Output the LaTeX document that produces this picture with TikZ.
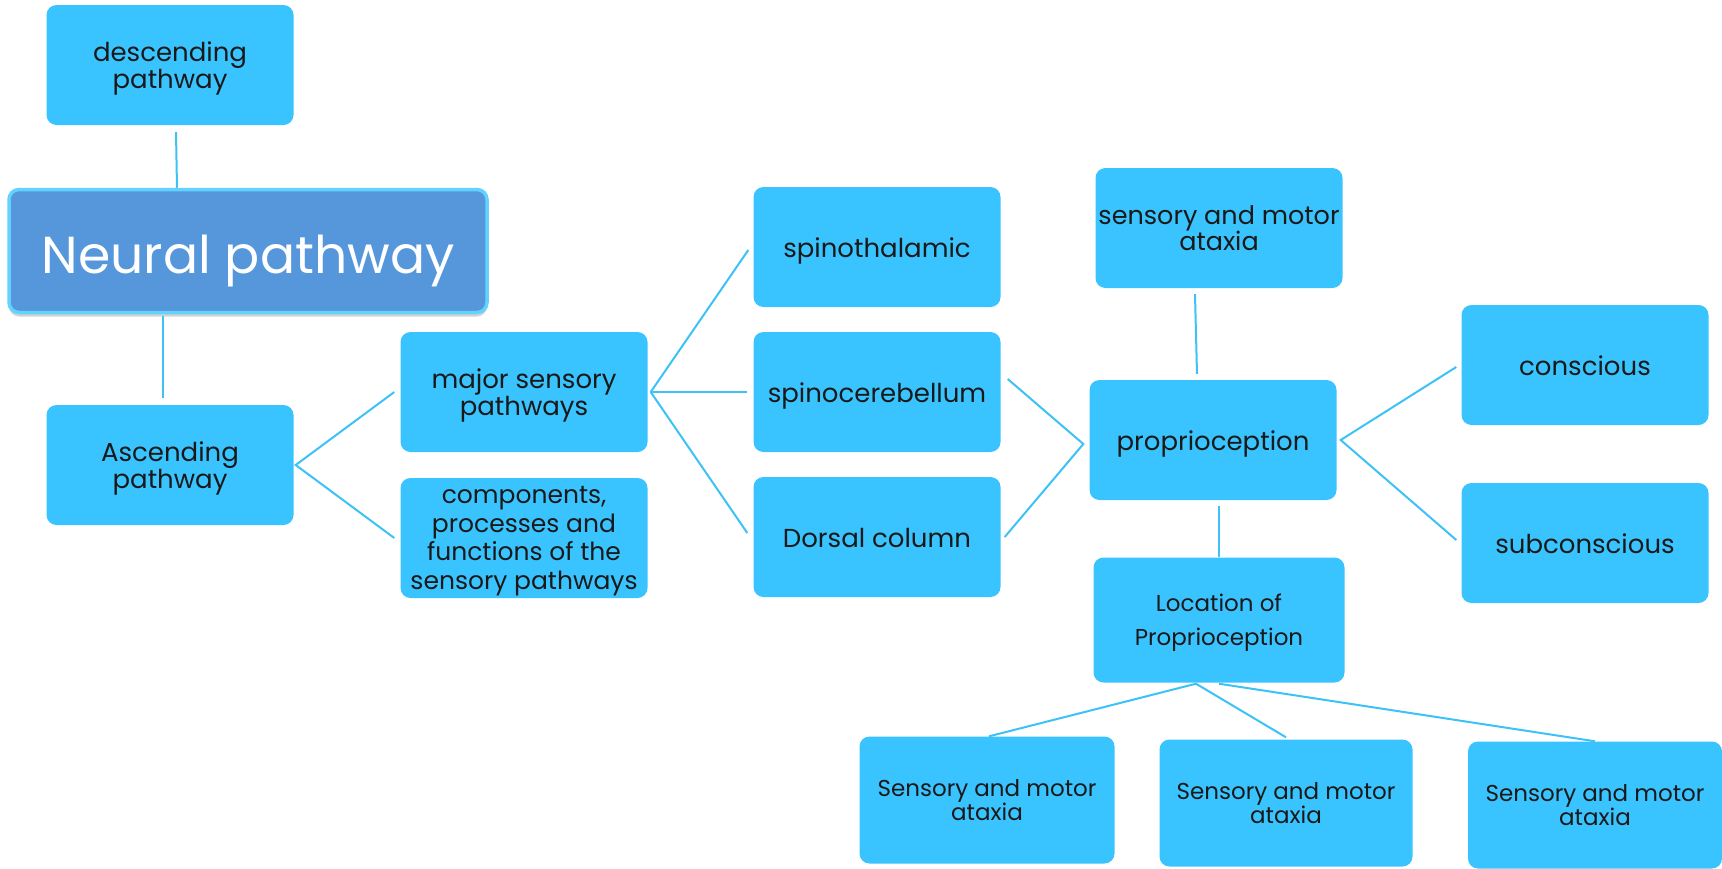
\documentclass[tikz,border=0pt]{standalone}
\usepackage{fontspec}
\setmainfont{Poppins}
\usepackage{tikz}
\usetikzlibrary{positioning, calc, shadows}
\definecolor{skyfill}{HTML}{3AC4FF}
\definecolor{hubfill}{HTML}{5597DA}
\definecolor{hubrim}{HTML}{62D3FF}
\definecolor{linkblue}{HTML}{3CC2F6}
\tikzset{
  box/.style    = {fill=skyfill, rounded corners=10pt, align=center,
                   minimum width=247pt, minimum height=120pt, inner sep=2pt,
                   text=black!90, font=\fontsize{26}{26.5}\selectfont},
  lowered/.style  = {text depth=0pt},
  oneline/.style  = {box, text height=21pt, text depth=0pt},
  smallbox/.style = {box, font=\fontsize{23}{24}\selectfont},
  hub/.style    = {draw=hubrim, line width=3.5pt, fill=hubfill, rounded corners=10pt,
                   minimum width=478pt, minimum height=123pt, text=white,
                   text height=46pt, text depth=2pt,
                   font=\fontsize{52}{54}\selectfont,
                   drop shadow={opacity=0.35, shadow xshift=0pt, shadow yshift=-4pt}},
  link/.style   = {draw=linkblue, line width=2pt},
}
\begin{document}
\begin{tikzpicture}[x=1pt, y=-1pt]
  \useasboundingbox (0,0) rectangle (1722,868);

  % Left column: root and its two pathways
  \node[box, lowered]  (desc)   at (170,65)   {descending\\pathway};
  \node[hub]           (neural) at (248,251)  {Neural pathway};
  \node[box, lowered]  (asc)    at (170,465)  {Ascending\\pathway};

  % Second column
  \node[box, lowered]  (major)  at (524,392)  {major sensory\\pathways};
  \node[box, lowered, font=\fontsize{25}{28.5}\selectfont]
                       (comp)   at (524,538)  {components,\\processes and\\functions of the\\sensory pathways};

  % Third column: tracts
  \node[oneline]  (spinoth)  at (877,247) {spinothalamic};
  \node[oneline]  (spinocer) at (877,392) {spinocerebellum};
  \node[oneline]  (dorsal)   at (877,537) {Dorsal column};

  % Proprioception cluster
  \node[box, font=\fontsize{25.5}{26}\selectfont]
                  (ataxia)  at (1219,228) {sensory and motor\\ataxia};
  \node[oneline]  (proprio) at (1213,440) {proprioception};
  \node[smallbox, lowered, minimum width=251pt, minimum height=125pt,
        font=\fontsize{23}{34}\selectfont] (loc) at (1219,620) {Location of\\Proprioception};
  \node[oneline]  (consc)   at (1585,365) {conscious};
  \node[oneline]  (subc)    at (1585,543) {subconscious};

  % Bottom row
  \node[smallbox, minimum width=255pt, minimum height=127pt] (bot1) at (987,800)  {Sensory and motor\\ataxia};
  \node[smallbox, minimum width=253pt, minimum height=127pt] (bot2) at (1286,803) {Sensory and motor\\ataxia};
  \node[smallbox, minimum width=254pt, minimum height=127pt] (bot3) at (1595,805) {Sensory and motor\\ataxia};

  % Edges
  \draw[link] ([xshift=6pt,yshift=-7pt]desc.south) -- ([xshift=-71pt]neural.north);
  \draw[link] ([xshift=-85pt,yshift=-2pt]neural.south) -- ([xshift=-7pt,yshift=7pt]asc.north);
  \draw[link] ([xshift=-6pt]major.west) -- ([xshift=2pt]asc.east) -- ([xshift=-6pt]comp.west);
  \draw[link] ([xshift=3pt]major.east) -- ([xshift=-5pt,yshift=-3pt]spinoth.west);
  \draw[link] ([xshift=3pt]major.east) -- ([xshift=-6pt]spinocer.west);
  \draw[link] ([xshift=3pt]major.east) -- ([xshift=-6pt,yshift=4pt]dorsal.west);
  \draw[link] ([xshift=7pt,yshift=13pt]spinocer.east) -- ([xshift=-6pt,yshift=-4pt]proprio.west)
              -- ([xshift=4pt]dorsal.east);
  \draw[link] ([xshift=-24pt,yshift=-6pt]ataxia.south) -- ([xshift=-16pt,yshift=6pt]proprio.north);
  \draw[link] ([xshift=6pt,yshift=-6pt]proprio.south) -- (loc.north);
  \draw[link] ([xshift=-5pt,yshift=-2pt]consc.west) -- ([xshift=4pt]proprio.east)
              -- ([xshift=-5pt,yshift=3pt]subc.west);
  \draw[link] ([xshift=-23pt,yshift=-1pt]loc.south) -- ([xshift=2pt]bot1.north);
  \draw[link] ([xshift=-23pt,yshift=-1pt]loc.south) -- ([yshift=2pt]bot2.north);
  \draw[link] ([yshift=-1pt]loc.south) -- (bot3.north);
\end{tikzpicture}
\end{document}
